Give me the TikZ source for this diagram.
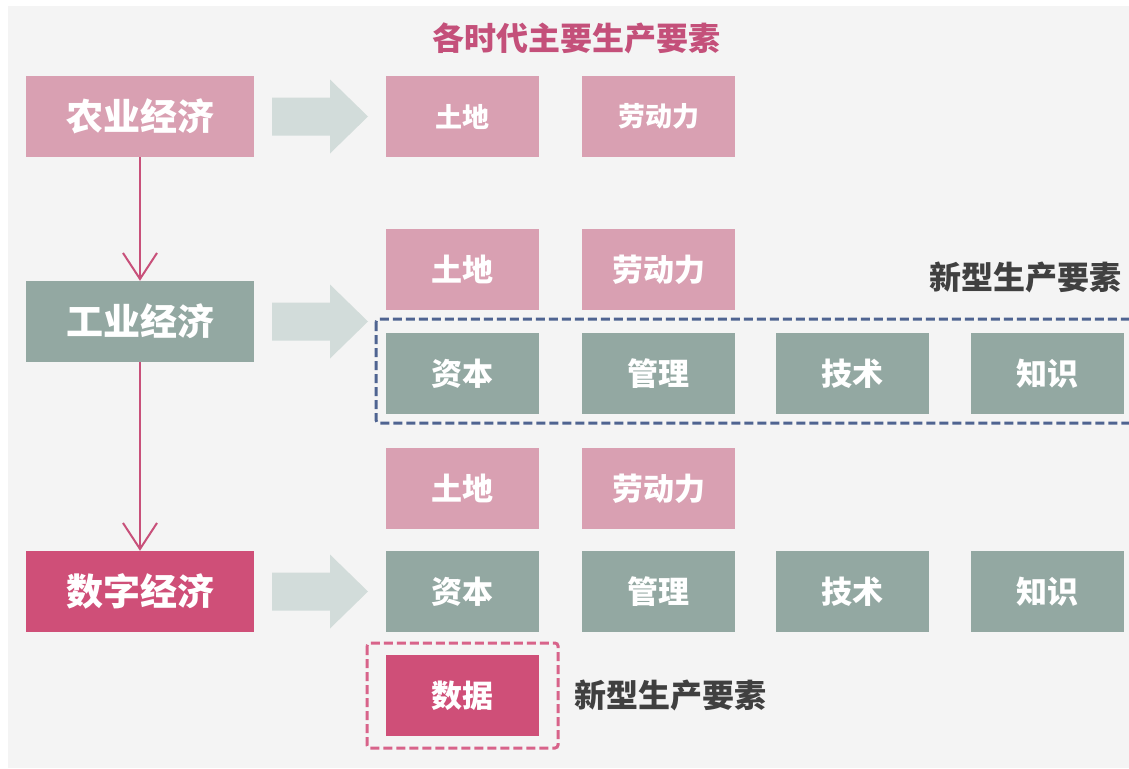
\documentclass[tikz,border=0pt]{standalone}
\usepackage{fontspec}
\newfontfamily\cjk{Noto Sans CJK SC}
\usetikzlibrary{arrows.meta}
\definecolor{bgpanel}{HTML}{F4F4F4}
\definecolor{pinkL}{HTML}{D9A0B2}
\definecolor{greenG}{HTML}{93A8A2}
\definecolor{pinkD}{HTML}{CF4F78}
\definecolor{blockar}{HTML}{D2DCDA}
\definecolor{vline}{HTML}{C8507A}
\definecolor{titlec}{HTML}{C4507A}
\definecolor{dashblue}{HTML}{4F6491}
\definecolor{dashpink}{HTML}{D8638A}
\definecolor{darktext}{HTML}{404040}
\begin{document}
\begin{tikzpicture}[x=1pt,y=-1pt,
  big/.style={minimum width=228pt,minimum height=81pt,inner sep=0pt,text=white,font=\cjk\bfseries\fontsize{37}{40}\selectfont},
  small/.style={minimum width=153pt,minimum height=81pt,inner sep=0pt,text=white,font=\cjk\bfseries\fontsize{31}{34}\selectfont},
  smaller/.style={small,font=\cjk\bfseries\fontsize{27}{30}\selectfont},
  blockarrow/.style={fill=blockar,draw=none},
  varrow/.style={draw=vline,line width=2pt,-{Straight Barb[length=26pt,width=34pt,line width=2pt]}},
  heading/.style={font=\cjk\bfseries\fontsize{32}{35}\selectfont,inner sep=0pt},
  dashbox/.style={line width=3pt,dash pattern=on 9pt off 4pt,rounded corners=3pt}
]
\useasboundingbox (0,0) rectangle (1129,768);
\fill[white] (0,0) rectangle (1129,768);
\fill[bgpanel] (8,6) rectangle (1129,768);

% title
\node[heading,text=titlec] (title) at (576,38) {各时代主要生产要素};

% era boxes
\node[big,fill=pinkL] (agri) at (140,116.5) {农业经济};
\node[big,fill=greenG] (indu) at (140,321.5) {工业经济};
\node[big,fill=pinkD] (digi) at (140,591.5) {数字经济};

\draw[varrow] (agri.south) -- (indu.north);
\draw[varrow] (indu.south) -- (digi.north);

% block arrows
\foreach \yy in {116.5,321.5,591.5}{
  \fill[blockarrow] (272,\yy-19) -- (330,\yy-19) -- (330,\yy-37) -- (368,\yy) -- (330,\yy+37) -- (330,\yy+19) -- (272,\yy+19) -- cycle;
}

% row 1
\node[smaller,fill=pinkL] (r1a) at (462.5,116.5) {土地};
\node[smaller,fill=pinkL] (r1b) at (658.5,116.5) {劳动力};

% row 2
\node[small,fill=pinkL] (r2a) at (462.5,269.5) {土地};
\node[small,fill=pinkL] (r2b) at (658.5,269.5) {劳动力};
\node[heading,text=darktext] (new1) at (1025,277) {新型生产要素};

% row 3
\draw[dashbox,draw=dashblue] (376,319) rectangle (1140,423);
\node[small,fill=greenG] (r3a) at (462.5,373.5) {资本};
\node[small,fill=greenG] (r3b) at (658.5,373.5) {管理};
\node[small,fill=greenG] (r3c) at (852.5,373.5) {技术};
\node[small,fill=greenG] (r3d) at (1047.5,373.5) {知识};

% row 4
\node[small,fill=pinkL] (r4a) at (462.5,488.5) {土地};
\node[small,fill=pinkL] (r4b) at (658.5,488.5) {劳动力};

% row 5
\node[small,fill=greenG] (r5a) at (462.5,591.5) {资本};
\node[small,fill=greenG] (r5b) at (658.5,591.5) {管理};
\node[small,fill=greenG] (r5c) at (852.5,591.5) {技术};
\node[small,fill=greenG] (r5d) at (1047.5,591.5) {知识};

% row 6
\draw[dashbox,draw=dashpink] (367,643) rectangle (558,748);
\node[small,fill=pinkD] (r6a) at (462.5,695.5) {数据};
\node[heading,text=darktext] (new2) at (670,695) {新型生产要素};
\end{tikzpicture}
\end{document}
